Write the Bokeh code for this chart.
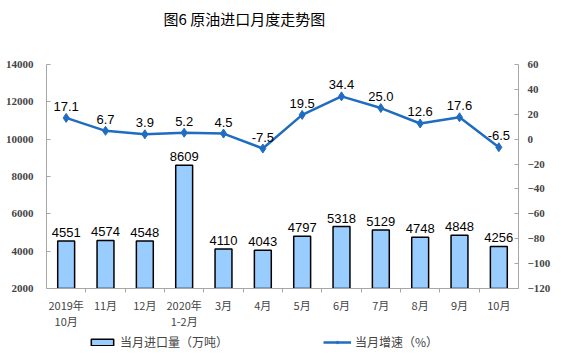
from bokeh.plotting import figure
from bokeh.models import (ColumnDataSource, Range1d, LinearAxis, FixedTicker,
                          LabelSet, Legend, LegendItem)
from bokeh.layouts import column
from bokeh.core.properties import value
from bokeh.embed import file_html
from bokeh.resources import INLINE

months = ["2019年\n10月", "11月", "12月", "2020年\n1-2月", "3月", "4月",
          "5月", "6月", "7月", "8月", "9月", "10月"]
imports = [4551, 4574, 4548, 8609, 4110, 4043, 4797, 5318, 5129, 4748, 4848, 4256]
growth = [17.1, 6.7, 3.9, 5.2, 4.5, -7.5, 19.5, 34.4, 25.0, 12.6, 17.6, -6.5]
left_ticks = [2000, 4000, 6000, 8000, 10000, 12000, 14000]
right_ticks = [-120, -100, -80, -60, -40, -20, 0, 20, 40, 60]
series_names = ["当月进口量（万吨）", "当月增速（%）"]

BAR_FILL = "#99CCFF"
LINE_COLOR = "#1F6CC0"

xs = list(range(len(months)))
src = ColumnDataSource(dict(
    x=xs, imp=imports, g=growth,
    imp_lbl=[str(v) for v in imports],
    g_lbl=["%.1f" % v for v in growth],
))

p = figure(frame_width=472, frame_height=224, output_backend="svg",
           toolbar_location=None,
           x_range=Range1d(-0.5, len(months) - 0.5),
           y_range=Range1d(left_ticks[0], left_ticks[-1]),
           min_border_left=46, min_border_right=30, min_border_top=64,
           min_border_bottom=40)
p.extra_y_ranges = {"rate": Range1d(right_ticks[0], right_ticks[-1])}
p.grid.visible = False
p.outline_line_color = None
p.background_fill_color = "white"
p.border_fill_color = "white"

p.title.text = "图6  原油进口月度走势图\n\u00a0"
p.title.align = "left"
p.title.offset = 117
p.title.text_line_height = 1.43
p.title.text_font = "Noto Sans CJK SC"
p.title.text_font_size = "15px"
p.title.text_font_style = "normal"
p.title.text_color = "black"

p.vbar(x="x", top="imp", bottom=left_ticks[0], width=0.43, source=src,
       fill_color=BAR_FILL, line_color="black", line_width=1.5)
p.line(x="x", y="g", source=src, y_range_name="rate",
       line_color=LINE_COLOR, line_width=2.5)
p.scatter(x="x", y="g", source=src, y_range_name="rate", marker="diamond",
          size=9, fill_color=LINE_COLOR, line_color=LINE_COLOR)

p.add_layout(LabelSet(x="x", y="imp", text="imp_lbl", source=src,
                      text_align="center", text_baseline="bottom", y_offset=4,
                      text_font=value("Liberation Sans"), text_font_size="13px",
                      text_color="black"))
p.add_layout(LabelSet(x="x", y="g", text="g_lbl", source=src, y_range_name="rate",
                      text_align="center", text_baseline="bottom", y_offset=7,
                      text_font=value("Liberation Sans"), text_font_size="13px",
                      text_color="black"))

axis_color = "#A6A6A6"
ly = p.yaxis[0]
ly.ticker = FixedTicker(ticks=left_ticks)
ly.major_tick_in = 4
ly.major_tick_out = 0
ly.minor_tick_line_color = None
ly.axis_line_color = axis_color
ly.major_tick_line_color = axis_color
ly.major_label_text_font = "Liberation Serif"
ly.major_label_text_font_size = "11px"
ly.major_label_text_font_style = "bold"
ly.major_label_standoff = 13

ry = LinearAxis(y_range_name="rate", ticker=FixedTicker(ticks=right_ticks))
ry.major_tick_in = 4
ry.major_tick_out = 0
ry.minor_tick_line_color = None
ry.axis_line_color = axis_color
ry.major_tick_line_color = axis_color
ry.major_label_text_font = "Liberation Serif"
ry.major_label_text_font_size = "11px"
ry.major_label_text_font_style = "bold"
ry.major_label_standoff = 9
p.add_layout(ry, "right")

xa = p.xaxis[0]
xa.ticker = FixedTicker(ticks=xs, minor_ticks=[i + 0.5 for i in xs[:-1]])
xa.major_label_overrides = {i: m for i, m in zip(xs, months)}
xa.major_tick_line_color = None
xa.minor_tick_in = 0
xa.minor_tick_out = 4
xa.minor_tick_line_color = axis_color
xa.axis_line_color = axis_color
xa.major_label_text_font = "Noto Sans CJK SC"
xa.major_label_text_font_size = "11px"
xa.major_label_text_line_height = 1.0
xa.major_label_standoff = 2

# Legend strip (separate small figure below the chart); its sample glyphs
# sit outside the strip's visible range so only the legend shows.
lg = figure(frame_width=545, frame_height=26, output_backend="svg",
            toolbar_location=None, x_axis_type=None, y_axis_type=None,
            x_range=Range1d(0, 1), y_range=Range1d(0, 1),
            min_border=0, min_border_left=0, min_border_right=0,
            min_border_top=0, min_border_bottom=0)
lg.grid.visible = False
lg.outline_line_color = None
lg.background_fill_color = "white"
lg.border_fill_color = "white"
lb = lg.vbar(x=[5], top=[6], bottom=[5], width=0.1, fill_color=BAR_FILL,
             line_color="black", line_width=1.5)
ll = lg.line(x=[5, 6], y=[5, 5], line_color=LINE_COLOR, line_width=2.5)
lp = lg.scatter(x=[5], y=[5], marker="diamond", size=8, fill_color=LINE_COLOR,
                line_color=LINE_COLOR)
legend = Legend(items=[LegendItem(label=series_names[0], renderers=[lb]),
                       LegendItem(label=series_names[1], renderers=[ll, lp])],
                orientation="horizontal", location=(88, 7), spacing=95,
                glyph_width=28, glyph_height=8, label_standoff=4,
                label_text_font="Noto Sans CJK SC", label_text_font_size="12px",
                border_line_color=None, background_fill_alpha=0,
                padding=2, margin=0)
lg.add_layout(legend, "center")

layout = column(p, lg, spacing=0)
open("out.html", "w").write(file_html(layout, INLINE))
